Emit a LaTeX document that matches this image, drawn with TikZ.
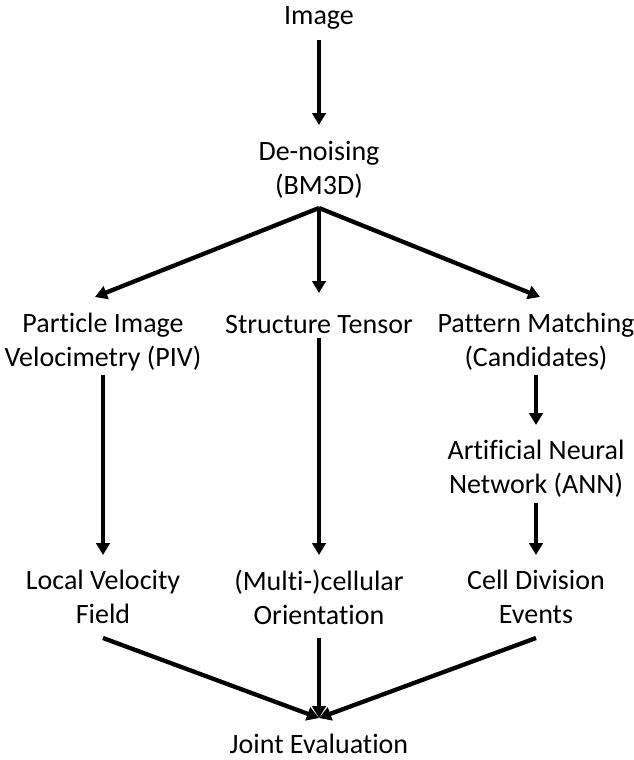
\documentclass[tikz,border=0pt]{standalone}
\usepackage{fontspec}
\setmainfont{Carlito}[Ligatures=NoCommon]
\usetikzlibrary{arrows.meta,calc}
\begin{document}
\begin{tikzpicture}[x=1pt,y=-1pt,
  lbl/.style={font=\fontsize{28}{34}\selectfont, align=center, inner sep=0pt},
  arr/.style={line width=4.3pt, -{Triangle[width=13.5pt,length=12pt]}}]
\useasboundingbox (0,0) rectangle (633,760);
\node[lbl] (img) at (319,18) {Image};
\node[lbl] (den) at (319,170) {De-noising\\(BM3D)};
\node[lbl] (piv) at (103,342) {Particle Image\\Velocimetry (PIV)};
\node[lbl] (st) at (319,325) {Structure Tensor};
\node[lbl] (pm) at (536,342) {Pattern Matching\\(Candidates)};
\node[lbl] (ann) at (536,469) {Artificial Neural\\Network (ANN)};
\node[lbl] (lvf) at (103,597) {Local Velocity\\Field};
\node[lbl] (mco) at (319,597) {(Multi-)cellular\\Orientation};
\node[lbl] (cde) at (536,597) {Cell Division\\Events};
\node[lbl] (je) at (319,744) {Joint Evaluation};
\coordinate (j) at ($(den)+(0,38)$);
\draw[arr] ($(img)+(0,22)$) -- ($(den)+(0,-45)$);
\draw[arr] (j) -- ($(piv)+(-8,-45)$);
\draw[arr] (j) -- ($(st)+(0,-32)$);
\draw[arr] (j) -- ($(pm)+(4,-45)$);
\draw[arr] ($(piv)+(0,33)$) -- ($(lvf)+(0,-42)$);
\draw[arr] ($(st)+(0,13)$) -- ($(mco)+(0,-42)$);
\draw[arr] ($(pm)+(0,33)$) -- ($(ann)+(0,-44)$);
\draw[arr] ($(ann)+(0,34)$) -- ($(cde)+(0,-42)$);
\draw[arr] ($(lvf)+(0,41)$) -- ($(je)+(0,-26)$);
\draw[arr] ($(mco)+(0,41)$) -- ($(je)+(0,-26)$);
\draw[arr] ($(cde)+(0,41)$) -- ($(je)+(0,-26)$);
\end{tikzpicture}
\end{document}
